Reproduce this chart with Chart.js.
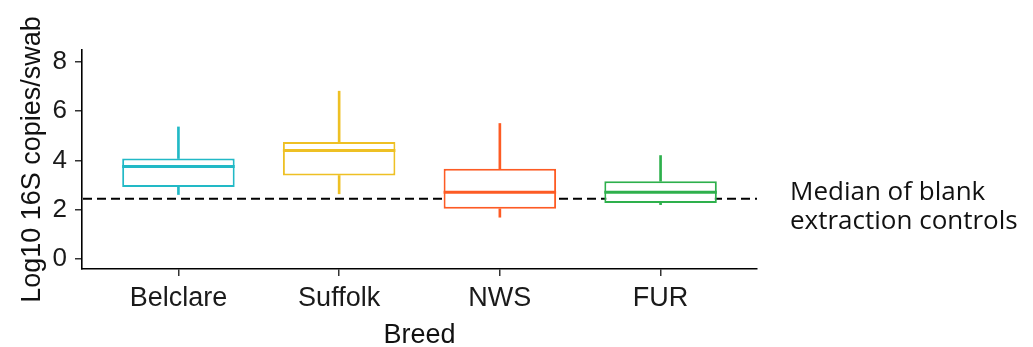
<!DOCTYPE html>
<html>
<head>
<meta charset="utf-8">
<script src="https://cdn.jsdelivr.net/npm/chart.js@4.4.1/dist/chart.umd.min.js"></script>
<style>
  html, body { margin: 0; padding: 0; background: #ffffff; }
  #wrap { width: 1033px; height: 347px; }
</style>
</head>
<body>
<div id="wrap"><canvas id="c" width="1033" height="347"></canvas></div>
<script>
// Breeds and their box-plot summaries (log10 16S copies per swab)
const breeds = ['Belclare', 'Suffolk', 'NWS', 'FUR'];
const lowerWhisker  = [2.62, 2.65, 1.70, 2.21];
const lowerQuartile = [2.93, 3.39, 2.04, 2.28];
const medians       = [3.76, 4.41, 2.71, 2.71];
const upperQuartile = [4.08, 4.75, 3.66, 3.16];
const upperWhisker  = [5.36, 6.81, 5.50, 4.20];

// Median of the blank extraction controls (reference line)
const blankMedian = 2.45;
const yTicks = [0, 2, 4, 6, 8];
const breedPositions = [1, 2, 3, 4];

const breedColors = ['#22b9c6', '#eec024', '#fd5b24', '#2eb04c'];

const toPoints = (lo, hi) => breedPositions.map((p, i) => ({ x: p, y: [lo[i], hi[i]] }));

Chart.defaults.font.family = '"Liberation Sans", Arial, sans-serif';

// Reference line below the boxes, medians and side note above them
const boxExtras = {
  id: 'boxExtras',
  beforeDatasetsDraw(chart) {
    const { ctx, chartArea, scales } = chart;
    const y = scales.y.getPixelForValue(blankMedian);
    ctx.save();
    ctx.strokeStyle = '#000';
    ctx.lineWidth = 2;
    ctx.setLineDash([9, 5]);
    ctx.beginPath();
    ctx.moveTo(chartArea.left + 1, y);
    ctx.lineTo(chartArea.right, y);
    ctx.stroke();
    ctx.restore();
  },
  afterDatasetsDraw(chart) {
    const { ctx, chartArea, scales } = chart;
    const meta = chart.getDatasetMeta(0);
    ctx.save();
    meta.data.forEach((bar, i) => {
      const y = scales.y.getPixelForValue(medians[i]);
      const half = bar.width / 2;
      ctx.strokeStyle = breedColors[i];
      ctx.lineWidth = 3;
      ctx.beginPath();
      ctx.moveTo(bar.x - half, y);
      ctx.lineTo(bar.x + half, y);
      ctx.stroke();
    });
    const yRef = scales.y.getPixelForValue(blankMedian);
    ctx.fillStyle = '#111';
    ctx.font = '26px "Open Sans", "Noto Sans", sans-serif';
    ctx.textAlign = 'left';
    ctx.textBaseline = 'alphabetic';
    const x = chartArea.right + 33;
    ctx.fillText('Median of blank', x, yRef + 1);
    ctx.fillText('extraction controls', x, yRef + 30);
    ctx.restore();
  }
};

new Chart(document.getElementById('c'), {
  type: 'bar',
  data: {
    datasets: [
      {
        label: 'box',
        data: toPoints(lowerQuartile, upperQuartile),
        backgroundColor: '#ffffff',
        borderColor: breedColors,
        borderWidth: 2,
        borderSkipped: false,
        grouped: false,
        categoryPercentage: 1,
        barPercentage: 0.7
      },
      {
        label: 'upper whisker',
        data: toPoints(upperQuartile, upperWhisker),
        backgroundColor: breedColors,
        borderWidth: 0,
        grouped: false,
        barThickness: 2
      },
      {
        label: 'lower whisker',
        data: toPoints(lowerWhisker, lowerQuartile),
        backgroundColor: breedColors,
        borderWidth: 0,
        grouped: false,
        barThickness: 2
      }
    ]
  },
  options: {
    responsive: false,
    animation: false,
    devicePixelRatio: 1,
    layout: { padding: { top: 50, right: 276, left: 0, bottom: 0 } },
    plugins: { legend: { display: false }, tooltip: { enabled: false } },
    scales: {
      x: {
        type: 'linear',
        min: 0.4,
        max: 4.6,
        offset: false,
        afterFit(scale) { scale.height = 78; },
        afterBuildTicks(scale) { scale.ticks = breedPositions.map(v => ({ value: v })); },
        grid: { display: true, drawOnChartArea: false, drawTicks: true, tickLength: 7, color: '#333', lineWidth: 1.5, offset: false },
        border: { display: true, color: '#000', width: 1.6 },
        ticks: {
          autoSkip: false,
          maxRotation: 0,
          padding: 6,
          color: '#1a1a1a',
          font: { size: 27 },
          callback: (v) => breeds[breedPositions.indexOf(v)]
        },
        title: {
          display: true,
          text: 'Breed',
          color: '#111',
          font: { size: 27, lineHeight: 0.84 },
          padding: { top: 0, bottom: 0 }
        }
      },
      y: {
        type: 'linear',
        min: -0.4,
        max: 8.48,
        afterFit(scale) { scale.width = 82; },
        afterBuildTicks(scale) { scale.ticks = yTicks.map(v => ({ value: v })); },
        grid: { display: true, drawOnChartArea: false, drawTicks: true, tickLength: 7, color: '#333', lineWidth: 1.5 },
        border: { display: true, color: '#000', width: 1.6 },
        ticks: {
          padding: 8,
          color: '#1a1a1a',
          font: { size: 26 },
          callback: (v) => String(v)
        },
        title: {
          display: true,
          text: 'Log10 16S copies/swab',
          color: '#111',
          font: { size: 27, lineHeight: 1.2 },
          padding: { top: 16, bottom: 0 }
        }
      }
    }
  },
  plugins: [boxExtras]
});
</script>
</body>
</html>
